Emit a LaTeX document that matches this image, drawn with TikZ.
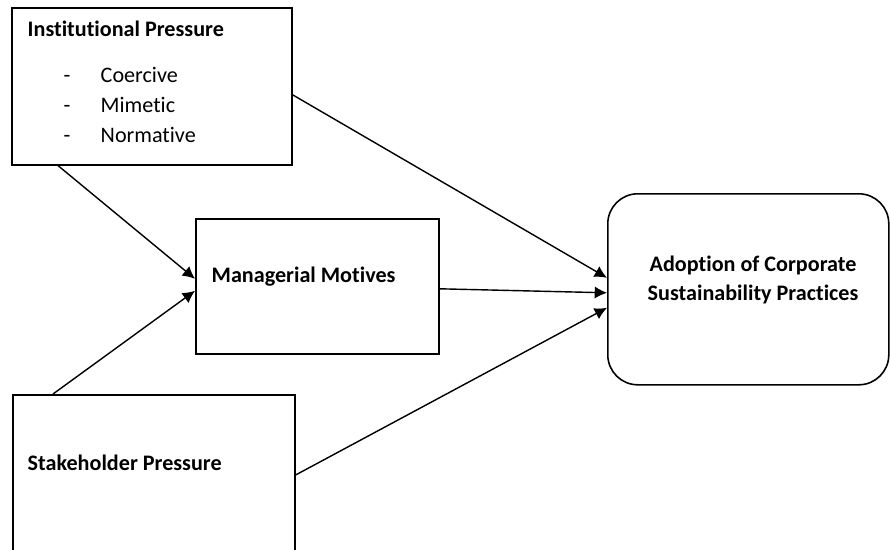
\documentclass[tikz,border=0pt]{standalone}
\usepackage{fontspec}
\setmainfont[Ligatures=NoCommon]{Carlito}
\usetikzlibrary{arrows.meta,calc,positioning}
\tikzset{box/.style={draw,anchor=north west,inner sep=0pt,line width=0.9pt},
  label/.style={anchor=base west,inner sep=0pt,font=\fontsize{12.6}{14}\selectfont},
  conn/.style={-{Latex[length=7pt,width=7pt]}}}

\begin{document}
\begin{tikzpicture}[x=0.02cm,y=-0.02cm,line width=0.8pt]
   \clip (0,0) rectangle (890,549);
   \node[box,minimum width=280*0.02cm,minimum height=157*0.02cm] (inst) at (11,7) {};
   \node[box,minimum width=243*0.02cm,minimum height=135*0.02cm] (mgr) at (195,218) {};
   \node[box,rounded corners=0.6cm,minimum width=281*0.02cm,minimum height=191*0.02cm] (adopt) at (607,193) {};
   \node[box,minimum width=282*0.02cm,minimum height=200*0.02cm] (stake) at (12,394) {};
   \node[label] (instT) at (27,36) {\bfseries Institutional Pressure};
   \foreach \y/\t [count=\i] in {82/Coercive,112/Mimetic,142/Normative} {
     \node[label] (dash\i) at (63,\y) {-};
     \node[label] (item\i) at (100,\y) {\t};
   }
   \node[label] (mgrT) at (211,282) {\bfseries Managerial Motives};
   \node[label,anchor=base] (adoptT1) at (753,271) {\bfseries Adoption of Corporate};
   \node[label,anchor=base] (adoptT2) at (753,300) {\bfseries Sustainability Practices};
   \node[label] (stakeT) at (27,470) {\bfseries Stakeholder Pressure};
   \draw[conn] ($(inst.south west)+(47,0)$) -- ($(mgr.west)+(0,-7.5)$);
   \draw[conn] ($(stake.north west)+(41,0)$) -- ($(mgr.west)+(0,4.5)$);
   \draw[conn] ($(inst.east)+(0,8.5)$) -- ($(adopt.west)+(0,-11.5)$);
   \draw[conn] ($(mgr.east)+(0,2.5)$) -- ($(adopt.west)+(0,3.5)$);
   \draw[conn] ($(stake.north east)+(0,81)$) -- ($(adopt.west)+(0,18.5)$);
\end{tikzpicture}
\end{document}
